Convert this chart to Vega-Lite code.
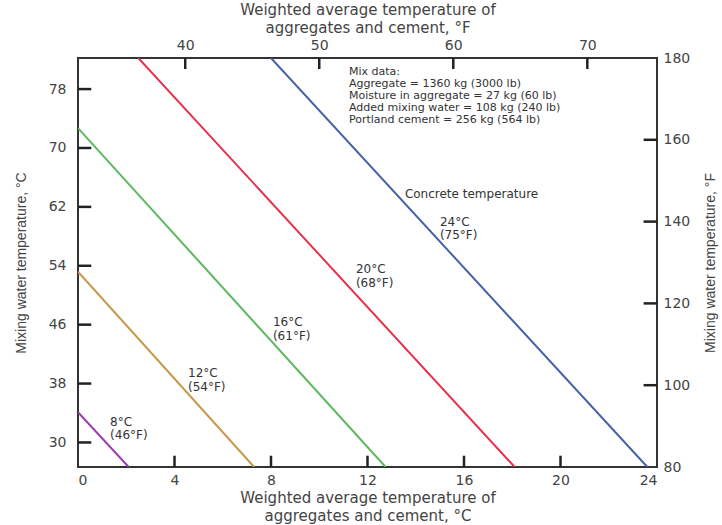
{
  "$schema": "https://vega.github.io/schema/vega-lite/v6.json",
  "width": 579,
  "height": 409,
  "autosize": {"type": "none"},
  "padding": {"left": 78, "top": 58, "right": 65, "bottom": 58},
  "background": "white",
  "config": {
    "view": {"stroke": "#333", "strokeWidth": 2},
    "axis": {
      "grid": false,
      "domain": false,
      "ticks": false,
      "labelFont": "DejaVu Sans",
      "labelFontSize": 14,
      "labelColor": "#444",
      "titleFont": "DejaVu Sans",
      "titleFontSize": 15,
      "titleLineHeight": 18,
      "titleColor": "#444",
      "titleFontWeight": "normal"
    }
  },
  "layer": [
    {
      "layer": [
        {
          "data": {
            "values": [
              {"series": "8", "x": 0, "y": 34.1},
              {"series": "8", "x": 2.1, "y": 26.667},
              {"series": "12", "x": 0, "y": 53.2},
              {"series": "12", "x": 7.3, "y": 26.667},
              {"series": "16", "x": 0, "y": 72.7},
              {"series": "16", "x": 12.75, "y": 26.667},
              {"series": "20", "x": 2.5, "y": 82.222},
              {"series": "20", "x": 18.1, "y": 26.667},
              {"series": "24", "x": 8.0, "y": 82.222},
              {"series": "24", "x": 23.6, "y": 26.667}
            ]
          },
          "mark": {"type": "line", "strokeWidth": 2, "clip": true},
          "encoding": {
            "x": {
              "field": "x",
              "type": "quantitative",
              "scale": {"domain": [0, 24], "nice": false},
              "axis": {
                "orient": "bottom",
                "values": [0, 4, 8, 12, 16, 20, 24],
                "labelPadding": 6,
                "titlePadding": 3,
                "title": ["Weighted average temperature of", "aggregates and cement, °C"]
              }
            },
            "y": {
              "field": "y",
              "type": "quantitative",
              "scale": {"domain": [26.667, 82.222], "nice": false, "zero": false},
              "axis": {
                "orient": "left",
                "values": [30, 38, 46, 54, 62, 70, 78],
                "labelPadding": 12,
                "titlePadding": 20,
                "titleFont": "Liberation Sans",
                "titleFontSize": 14,
                "title": "Mixing water temperature, °C"
              }
            },
            "color": {
              "field": "series",
              "type": "nominal",
              "scale": {
                "domain": ["8", "12", "16", "20", "24"],
                "range": ["#9a3cb0", "#c8984a", "#5cb85c", "#e3324d", "#4561a8"]
              },
              "legend": null
            }
          }
        },
        {
          "data": {"values": [{"x": 4}, {"x": 8}, {"x": 12}, {"x": 16}, {"x": 20}]},
          "mark": {"type": "rule", "strokeWidth": 2.5, "color": "#222"},
          "encoding": {
            "x": {"field": "x", "type": "quantitative"},
            "y": {"datum": 26.667, "type": "quantitative"},
            "y2": {"datum": 28.2}
          }
        },
        {
          "data": {"values": [{"y": 30}, {"y": 38}, {"y": 46}, {"y": 54}, {"y": 62}, {"y": 70}, {"y": 78}]},
          "mark": {"type": "rule", "strokeWidth": 2.5, "color": "#222"},
          "encoding": {
            "y": {"field": "y", "type": "quantitative"},
            "x": {"datum": 0, "type": "quantitative"},
            "x2": {"datum": 0.55}
          }
        },
        {
          "data": {
            "values": [
              {"x": 1.33, "y": 32.8, "label": "8°C"},
              {"x": 1.33, "y": 31.0, "label": "(46°F)"},
              {"x": 4.56, "y": 39.4, "label": "12°C"},
              {"x": 4.56, "y": 37.6, "label": "(54°F)"},
              {"x": 8.08, "y": 46.3, "label": "16°C"},
              {"x": 8.08, "y": 44.5, "label": "(61°F)"},
              {"x": 11.52, "y": 53.5, "label": "20°C"},
              {"x": 11.52, "y": 51.7, "label": "(68°F)"},
              {"x": 15.0, "y": 60.0, "label": "24°C"},
              {"x": 15.0, "y": 58.2, "label": "(75°F)"},
              {"x": 13.55, "y": 63.75, "label": "Concrete temperature"}
            ]
          },
          "mark": {"type": "text", "align": "left", "baseline": "middle", "font": "DejaVu Sans", "fontSize": 12, "color": "#333"},
          "encoding": {
            "x": {"field": "x", "type": "quantitative"},
            "y": {"field": "y", "type": "quantitative"},
            "text": {"field": "label"}
          }
        },
        {
          "data": {
            "values": [
              {"x": 11.23, "y": 80.32, "label": "Mix data:"},
              {"x": 11.23, "y": 78.69, "label": "Aggregate = 1360 kg (3000 lb)"},
              {"x": 11.23, "y": 77.06, "label": "Moisture in aggregate = 27 kg (60 lb)"},
              {"x": 11.23, "y": 75.43, "label": "Added mixing water = 108 kg (240 lb)"},
              {"x": 11.23, "y": 73.8, "label": "Portland cement = 256 kg (564 lb)"}
            ]
          },
          "mark": {"type": "text", "align": "left", "baseline": "middle", "font": "DejaVu Sans", "fontSize": 11, "color": "#333"},
          "encoding": {
            "x": {"field": "x", "type": "quantitative"},
            "y": {"field": "y", "type": "quantitative"},
            "text": {"field": "label"}
          }
        }
      ]
    },
    {
      "layer": [
        {
          "data": {"values": [{"fx": 50, "fy": 120}]},
          "mark": {"type": "point", "opacity": 0},
          "encoding": {
            "x": {
              "field": "fx",
              "type": "quantitative",
              "scale": {"domain": [32, 75.2], "nice": false, "zero": false},
              "axis": {
                "orient": "top",
                "values": [40, 50, 60, 70],
                "labelPadding": 6,
                "titlePadding": 3,
                "title": ["Weighted average temperature of", "aggregates and cement, °F"]
              }
            },
            "y": {
              "field": "fy",
              "type": "quantitative",
              "scale": {"domain": [80, 180], "nice": false, "zero": false},
              "axis": {
                "orient": "right",
                "values": [80, 100, 120, 140, 160, 180],
                "labelPadding": 6,
                "titlePadding": 28,
                "titleAngle": 270,
                "titleFont": "Liberation Sans",
                "titleFontSize": 14,
                "title": "Mixing water temperature, °F"
              }
            }
          }
        },
        {
          "data": {"values": [{"fx": 40}, {"fx": 50}, {"fx": 60}, {"fx": 70}]},
          "mark": {"type": "rule", "strokeWidth": 2.5, "color": "#222"},
          "encoding": {
            "x": {"field": "fx", "type": "quantitative"},
            "y": {"datum": 180, "type": "quantitative"},
            "y2": {"datum": 177.3}
          }
        },
        {
          "data": {"values": [{"fy": 100}, {"fy": 120}, {"fy": 140}, {"fy": 160}]},
          "mark": {"type": "rule", "strokeWidth": 2.5, "color": "#222"},
          "encoding": {
            "y": {"field": "fy", "type": "quantitative"},
            "x": {"datum": 75.2, "type": "quantitative"},
            "x2": {"datum": 74.2}
          }
        }
      ]
    }
  ],
  "resolve": {"scale": {"x": "independent", "y": "independent"}, "axis": {"x": "independent", "y": "independent"}}
}
